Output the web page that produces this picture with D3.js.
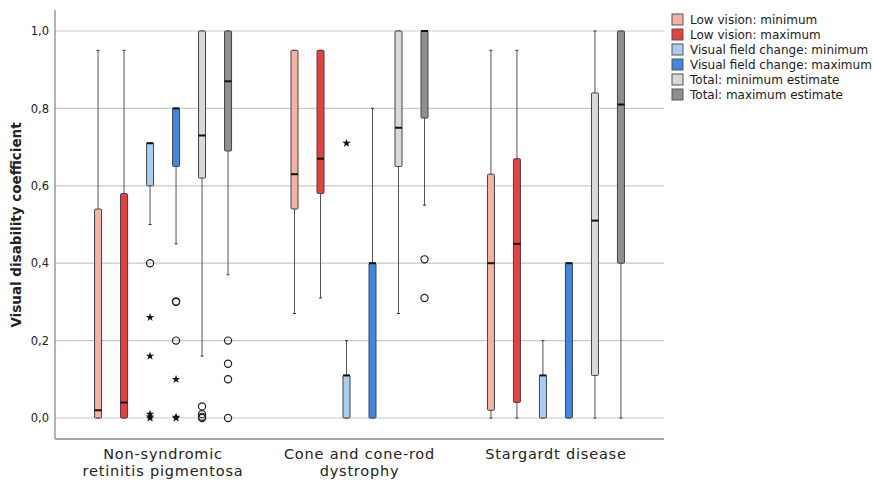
<!DOCTYPE html>
<html>
<head>
<meta charset="utf-8">
<script src="https://cdn.jsdelivr.net/npm/d3@7"></script>
<style>
  body { margin: 0; background: #fff; }
  text { font-family: "DejaVu Sans", "Noto Sans", sans-serif; fill: #222; }
</style>
</head>
<body>
<svg id="chart" width="873" height="481"></svg>
<script>
// groups on the x axis
var categories = [["Non-syndromic", "retinitis pigmentosa"], ["Cone and cone-rod", "dystrophy"], ["Stargardt disease"]];
var seriesNames = ["Low vision: minimum", "Low vision: maximum", "Visual field change: minimum",
    "Visual field change: maximum", "Total: minimum estimate", "Total: maximum estimate"];
var seriesColors = ["#f3b2a3", "#e9403f", "#a9ccf2", "#3f87e3", "#d9d9d9", "#8f8f8f"];
var yTicks = [0, 0.2, 0.4, 0.6, 0.8, 1.0];

// [lower whisker, q1, median, q3, upper whisker] per category
var lowVisionMin = [[0, 0, 0.02, 0.54, 0.95], [0.27, 0.54, 0.63, 0.95, 0.95], [0, 0.02, 0.40, 0.63, 0.95]];
var lowVisionMax = [[0, 0, 0.04, 0.58, 0.95], [0.31, 0.58, 0.67, 0.95, 0.95], [0, 0.04, 0.45, 0.67, 0.95]];
var fieldMin = [[0.50, 0.60, 0.71, 0.71, 0.71], [0, 0, 0.11, 0.11, 0.20], [0, 0, 0.11, 0.11, 0.20]];
var fieldMax = [[0.45, 0.65, 0.80, 0.80, 0.80], [0, 0, 0.40, 0.40, 0.80], [0, 0, 0.40, 0.40, 0.40]];
var totalMin = [[0.16, 0.62, 0.73, 1.0, 1.0], [0.27, 0.65, 0.75, 1.0, 1.0], [0, 0.11, 0.51, 0.84, 1.0]];
var totalMax = [[0.37, 0.69, 0.87, 1.0, 1.0], [0.55, 0.775, 1.0, 1.0, 1.0], [0, 0.40, 0.81, 1.0, 1.0]];

// outliers: [category, series, value, kind]
var outliers = [
    [0, 2, 0.40, "o"], [0, 2, 0.26, "*"], [0, 2, 0.16, "*"], [0, 2, 0.01, "*"], [0, 2, 0, "*"], [0, 2, 0.003, "*"],
    [0, 3, 0.30, "o"], [0, 3, 0.301, "o"], [0, 3, 0.20, "o"], [0, 3, 0.10, "*"], [0, 3, 0, "*"], [0, 3, 0.002, "*"],
    [0, 4, 0.03, "o"], [0, 4, 0.01, "o"], [0, 4, 0, "o"], [0, 4, 0.003, "o"],
    [0, 5, 0.20, "o"], [0, 5, 0.14, "o"], [0, 5, 0.10, "o"], [0, 5, 0, "o"],
    [1, 2, 0.71, "*"],
    [1, 5, 0.41, "o"], [1, 5, 0.31, "o"]
];

var allSeries = [lowVisionMin, lowVisionMax, fieldMin, fieldMax, totalMin, totalMax];

var svg = d3.select("#chart");
var plotLeft = 55, plotRight = 664, plotTop = 10, plotBottom = 439;

var x = d3.scalePoint().domain(d3.range(categories.length)).range([plotLeft, plotRight]).padding(0.55);
var y = d3.scaleLinear().domain([0, 1]).range([418, 31]);
var offset = d3.scaleLinear().domain([0, 5]).range([-65, 65]);
var boxW = 7;

// grid lines
svg.append("g").selectAll("line").data(yTicks).enter().append("line")
    .attr("x1", plotLeft).attr("x2", plotRight)
    .attr("y1", function (d) { return y(d); }).attr("y2", function (d) { return y(d); })
    .attr("stroke", "#c9c9c9").attr("stroke-width", 1.2);

// y axis
var yAxis = svg.append("g").attr("transform", "translate(" + plotLeft + ",0)")
    .call(d3.axisLeft(y).tickValues(yTicks).tickSize(0).tickPadding(6)
        .tickFormat(function (d) { return d3.format(".1f")(d).replace(".", ","); }));
yAxis.select(".domain").remove();
yAxis.selectAll("text").style("font-size", "11.5px").attr("fill", "#222");

svg.append("line").attr("x1", plotLeft).attr("x2", plotLeft).attr("y1", plotTop).attr("y2", plotBottom)
    .attr("stroke", "#8a8a8a").attr("stroke-width", 1.3);
svg.append("line").attr("x1", plotLeft).attr("x2", plotRight).attr("y1", plotBottom).attr("y2", plotBottom)
    .attr("stroke", "#8a8a8a").attr("stroke-width", 1.3);

svg.append("text")
    .attr("transform", "translate(21,225) rotate(-90)")
    .attr("text-anchor", "middle")
    .style("font-size", "13.5px").style("font-weight", "bold")
    .text("Visual disability coefficient");

// x labels
categories.forEach(function (lines, i) {
    lines.forEach(function (s, j) {
        svg.append("text").attr("text-anchor", "middle")
            .style("font-size", "14.5px").style("letter-spacing", "0.8px")
            .attr("x", x(i)).attr("y", 459 + j * 17).text(s);
    });
});

// boxes
allSeries.forEach(function (series, si) {
    var g = svg.append("g");
    series.forEach(function (st, ci) {
        var cx = x(ci) + offset(si);
        g.append("line").attr("x1", cx).attr("x2", cx)
            .attr("y1", y(st[0])).attr("y2", y(st[4]))
            .attr("stroke", "#555").attr("stroke-width", 1);
        [st[0], st[4]].forEach(function (v) {
            g.append("line").attr("x1", cx - 1.5).attr("x2", cx + 1.5)
                .attr("y1", y(v)).attr("y2", y(v)).attr("stroke", "#333").attr("stroke-width", 1);
        });
        g.append("rect")
            .attr("x", cx - boxW / 2).attr("width", boxW)
            .attr("y", y(st[3])).attr("height", Math.max(y(st[1]) - y(st[3]), 0))
            .attr("rx", 1)
            .attr("fill", seriesColors[si]).attr("stroke", "#444").attr("stroke-width", 1);
        g.append("line").attr("x1", cx - boxW / 2).attr("x2", cx + boxW / 2)
            .attr("y1", y(st[2])).attr("y2", y(st[2]))
            .attr("stroke", "#111").attr("stroke-width", 2);
    });
});

// outliers
var star = d3.symbol().type(d3.symbolStar).size(22);
outliers.forEach(function (o) {
    var cx = x(o[0]) + offset(o[1]);
    if (o[3] === "o") {
        svg.append("circle").attr("cx", cx).attr("cy", y(o[2])).attr("r", 3.6)
            .attr("fill", "none").attr("stroke", "#222").attr("stroke-width", 1.2);
    } else {
        svg.append("path").attr("d", star)
            .attr("transform", "translate(" + cx + "," + y(o[2]) + ")")
            .attr("fill", "#111");
    }
});

// legend
var legend = svg.append("g").attr("transform", "translate(672,14)");
seriesNames.forEach(function (name, i) {
    var row = legend.append("g").attr("transform", "translate(0," + (i * 15) + ")");
    row.append("rect").attr("width", 11).attr("height", 11)
        .attr("fill", seriesColors[i]).attr("stroke", "#555").attr("stroke-width", 1);
    row.append("text").attr("x", 18).attr("y", 10).style("font-size", "12px").text(name);
});
</script>
</body>
</html>
